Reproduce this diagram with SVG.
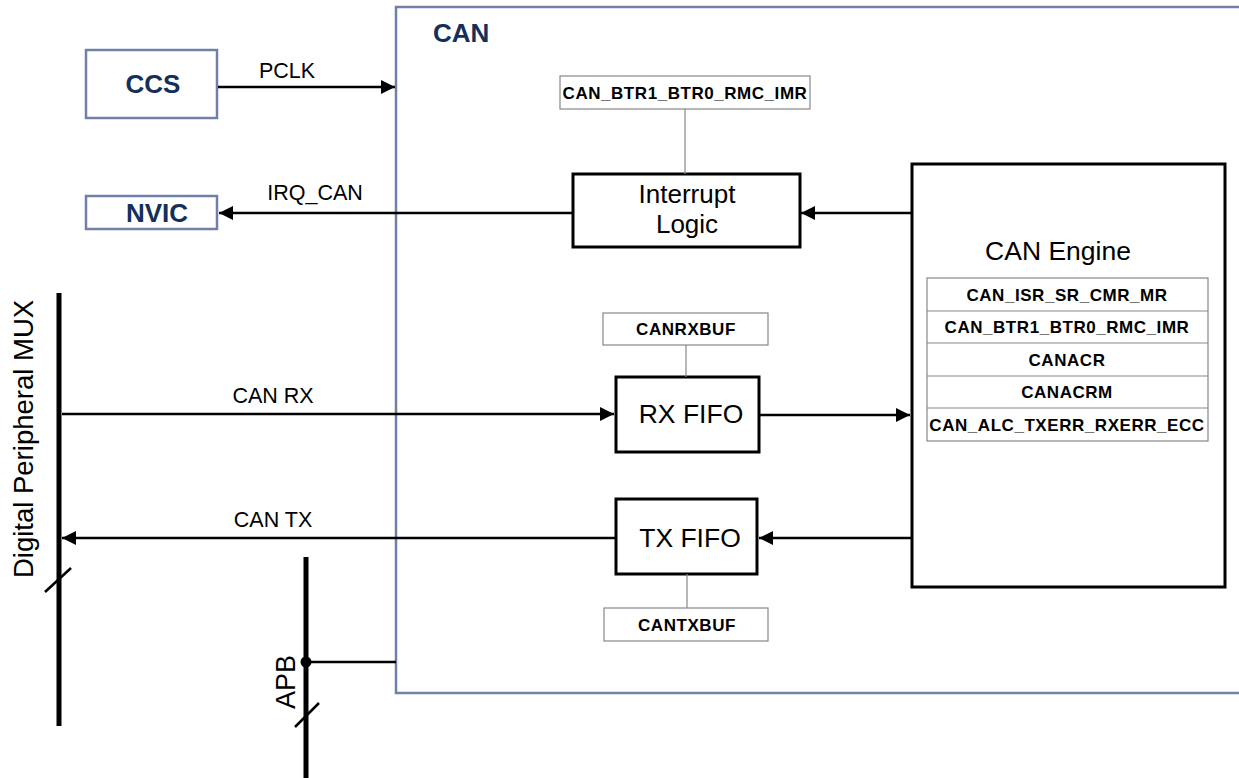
<svg xmlns="http://www.w3.org/2000/svg" width="1239" height="778" viewBox="0 0 1239 778">
<defs>
<style>
.t{font-family:"Liberation Sans",Arial,sans-serif;fill:#000}
.b{font-weight:bold}
.navy{fill:#14305a;font-weight:bold}
.blue{fill:#fff;stroke:#7080a8;stroke-width:2.5}
.blk{fill:#fff;stroke:#000;stroke-width:3}
.reg{fill:#fff;stroke:#888;stroke-width:1.2}
.ln{stroke:#000;stroke-width:2.5;fill:none}
.gl{stroke:#888;stroke-width:1.2;fill:none}
.bus{stroke:#000;stroke-width:5;fill:none}
.rt{font-size:17px;font-weight:bold;letter-spacing:0.55px}
.lb{font-size:21.5px}
.big{font-size:26.5px}
</style>
<marker id="ah" viewBox="0 0 10 10" refX="10" refY="5" markerWidth="6.8" markerHeight="5.6" markerUnits="strokeWidth" orient="auto">
<path d="M0,0 L10,5 L0,10 z" fill="#000"/>
</marker>
</defs>
<rect width="1239" height="778" fill="#fff"/>

<g id="can-container">
<path d="M1245,7 L396,7 L396,693 L1245,693" fill="none" stroke="#7080a8" stroke-width="2.5"/>
<text class="t navy" x="433" y="42" font-size="26">CAN</text>
</g>

<g id="ccs">
<rect class="blue" x="86" y="50" width="131" height="68"/>
<text class="t navy" x="153" y="93" font-size="26" text-anchor="middle">CCS</text>
</g>

<g id="nvic">
<rect class="blue" x="86" y="196" width="131" height="33"/>
<text class="t navy" x="157" y="222" font-size="26" text-anchor="middle">NVIC</text>
</g>

<g id="reg-top">
<rect class="reg" x="560" y="76" width="250" height="33"/>
<text class="t rt" x="685" y="98.5" text-anchor="middle">CAN_BTR1_BTR0_RMC_IMR</text>
</g>

<g id="interrupt-logic">
<rect class="blk" x="573" y="174" width="227" height="73"/>
<text class="t" x="687" y="203" font-size="26" text-anchor="middle">Interrupt</text>
<text class="t" x="687" y="233" font-size="26" text-anchor="middle">Logic</text>
</g>

<g id="can-engine">
<rect class="blk" x="912" y="164" width="313" height="423"/>
<text class="t" x="1058" y="260" font-size="26.5" text-anchor="middle">CAN Engine</text>
<rect class="reg" x="927" y="278" width="281" height="163"/>
<line class="gl" x1="927" y1="311" x2="1208" y2="311"/>
<line class="gl" x1="927" y1="343" x2="1208" y2="343"/>
<line class="gl" x1="927" y1="376" x2="1208" y2="376"/>
<line class="gl" x1="927" y1="408" x2="1208" y2="408"/>
<text class="t rt" x="1067" y="300.5" text-anchor="middle">CAN_ISR_SR_CMR_MR</text>
<text class="t rt" x="1067" y="333" text-anchor="middle">CAN_BTR1_BTR0_RMC_IMR</text>
<text class="t rt" x="1067" y="365.5" text-anchor="middle">CANACR</text>
<text class="t rt" x="1067" y="398" text-anchor="middle">CANACRM</text>
<text class="t rt" x="1067" y="430.5" text-anchor="middle">CAN_ALC_TXERR_RXERR_ECC</text>
</g>

<g id="canrxbuf">
<rect class="reg" x="603" y="313" width="165" height="32"/>
<text class="t rt" x="686" y="335" text-anchor="middle">CANRXBUF</text>
</g>

<g id="rx-fifo">
<rect class="blk" x="616" y="377" width="143" height="75"/>
<text class="t big" x="691" y="423" text-anchor="middle">RX FIFO</text>
</g>

<g id="tx-fifo">
<rect class="blk" x="616" y="499" width="141" height="75"/>
<text class="t big" x="690" y="547" text-anchor="middle">TX FIFO</text>
</g>

<g id="cantxbuf">
<rect class="reg" x="604" y="608" width="164" height="33"/>
<text class="t rt" x="687" y="630.5" text-anchor="middle">CANTXBUF</text>
</g>

<g id="digital-peripheral-mux">
<line class="bus" x1="59" y1="293" x2="59" y2="726"/>
<line class="ln" x1="45" y1="592" x2="71" y2="568"/>
<text class="t" transform="translate(33,439) rotate(-90)" font-size="27.5" text-anchor="middle">Digital Peripheral MUX</text>
</g>

<g id="apb">
<line class="bus" x1="306" y1="557" x2="306" y2="778"/>
<line class="ln" x1="295" y1="727" x2="319" y2="703"/>
<circle cx="306" cy="662" r="5.5" fill="#000"/>
<text class="t" transform="translate(295,682) rotate(-90)" font-size="27" text-anchor="middle">APB</text>
</g>

<g id="connectors">
<line class="ln" x1="218" y1="87" x2="395" y2="87" marker-end="url(#ah)"/>
<text class="t lb" x="287" y="78" text-anchor="middle">PCLK</text>
<line class="ln" x1="572" y1="213" x2="219" y2="213" marker-end="url(#ah)"/>
<text class="t lb" x="315" y="200" text-anchor="middle">IRQ_CAN</text>
<line class="ln" x1="911" y1="213" x2="801" y2="213" marker-end="url(#ah)"/>
<line class="gl" x1="685" y1="109" x2="685" y2="174"/>
<line class="gl" x1="686" y1="345" x2="686" y2="377"/>
<line class="gl" x1="687" y1="574" x2="687" y2="608"/>
<line class="ln" x1="62" y1="414" x2="614" y2="414" marker-end="url(#ah)"/>
<text class="t lb" x="273" y="403" text-anchor="middle">CAN RX</text>
<line class="ln" x1="760" y1="415" x2="910" y2="415" marker-end="url(#ah)"/>
<line class="ln" x1="911" y1="538" x2="759" y2="538" marker-end="url(#ah)"/>
<line class="ln" x1="615" y1="538" x2="62" y2="538" marker-end="url(#ah)"/>
<text class="t lb" x="273" y="527" text-anchor="middle">CAN TX</text>
<line class="ln" x1="306" y1="662" x2="396" y2="662"/>
</g>
</svg>
